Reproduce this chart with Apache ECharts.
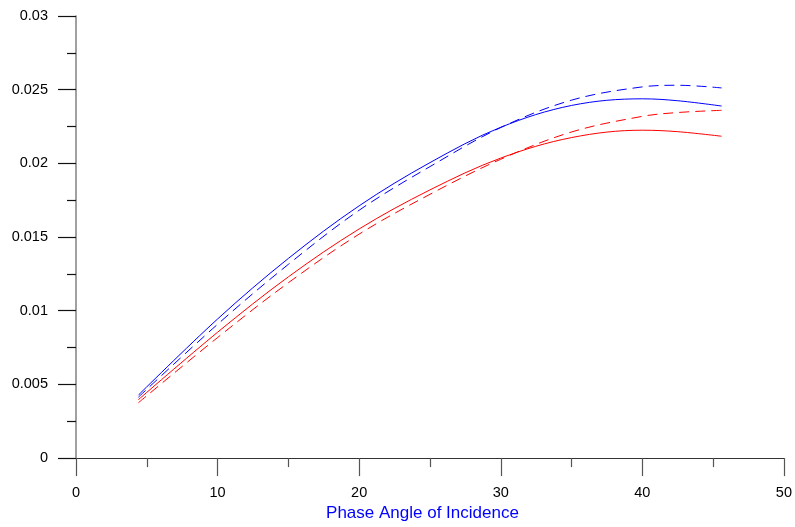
<!DOCTYPE html>
<html>
<head>
<meta charset="utf-8">
<script src="https://cdn.jsdelivr.net/npm/echarts@6/dist/echarts.min.js"></script>
<style>html,body{margin:0;padding:0;background:#fff;}#c{width:795px;height:527px;}</style>
</head>
<body>
<div id="c"></div>
<script>
var xValues = [4.4, 10, 15, 20, 25, 30, 35, 40, 42.5, 45.6];
var blueSolid = [0.00427, 0.00944, 0.01355, 0.01712, 0.02005, 0.02245, 0.02393, 0.02438, 0.02425, 0.02389];
var blueDashed = [0.00413, 0.00908, 0.01315, 0.01682, 0.01978, 0.02243, 0.02429, 0.02519, 0.02530, 0.02512];
var redSolid = [0.00396, 0.00854, 0.01230, 0.01555, 0.01820, 0.02036, 0.02175, 0.02225, 0.02215, 0.02184];
var redDashed = [0.00375, 0.00818, 0.01190, 0.01520, 0.01790, 0.02028, 0.02213, 0.02319, 0.02345, 0.02360];
var xTicks = [0, 10, 20, 30, 40, 50];
var yTicks = [0, 0.005, 0.01, 0.015, 0.02, 0.025, 0.03];
var xTitle = 'Phase Angle of Incidence';

function pairs(ys) { return xValues.map(function (x, i) { return [x, ys[i]]; }); }
function mk(name, ys, color, dashed) {
  return {
    name: name, type: 'line', data: pairs(ys), smooth: 0.35, showSymbol: false, symbol: 'none',
    lineStyle: { color: color, width: 1, type: dashed ? [10, 6] : 'solid' }, z: 5
  };
}
var chart = echarts.init(document.getElementById('c'), null, { renderer: 'canvas' });
chart.setOption({
  animation: false,
  backgroundColor: '#ffffff',
  grid: { left: 76, right: 8, top: 16, bottom: 66, containLabel: false },
  xAxis: {
    type: 'value', min: xTicks[0], max: xTicks[xTicks.length - 1], interval: 10,
    name: xTitle, nameLocation: 'middle', nameGap: 42,
    nameTextStyle: { color: '#0000ff', fontSize: 17, fontFamily: 'Arial, Liberation Sans', padding: [0, 15, 0, 0] },
    axisLine: { show: true, onZero: false, lineStyle: { color: '#333333', width: 1.2 } },
    axisTick: { show: true, length: 18, lineStyle: { color: '#555555', width: 1.2 } },
    minorTick: { show: true, splitNumber: 2, length: 9, lineStyle: { color: '#555555', width: 1.2 } },
    splitLine: { show: false },
    axisLabel: { margin: 27, color: '#000000', fontSize: 14.5, fontFamily: 'Arial, Liberation Sans' }
  },
  yAxis: {
    type: 'value', min: yTicks[0], max: yTicks[yTicks.length - 1], interval: 0.005,
    axisLine: { show: true, onZero: false, lineStyle: { color: '#808080', width: 1.5 } },
    axisTick: { show: true, length: 18, lineStyle: { color: '#111111', width: 1.2 } },
    minorTick: { show: true, splitNumber: 2, length: 9, lineStyle: { color: '#111111', width: 1.2 } },
    splitLine: { show: false },
    axisLabel: {
      margin: 28, color: '#000000', fontSize: 14.5, fontFamily: 'Arial, Liberation Sans',
      formatter: function (v) { return String(parseFloat(v.toFixed(4))); }
    }
  },
  series: [
    mk('Blue solid', blueSolid, '#0000ff', false),
    mk('Blue dashed', blueDashed, '#0000ff', true),
    mk('Red solid', redSolid, '#ff0000', false),
    mk('Red dashed', redDashed, '#ff0000', true)
  ]
});
</script>
</body>
</html>
